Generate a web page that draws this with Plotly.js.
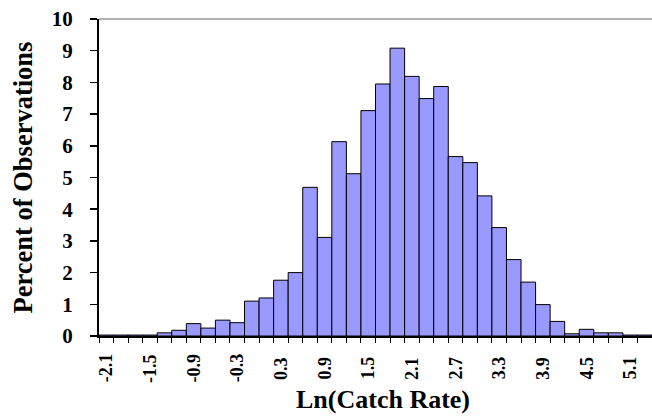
<!DOCTYPE html>
<html>
<head>
<meta charset="utf-8">
<script src="https://cdn.plot.ly/plotly-3.0.1.min.js"></script>
<style>html,body{margin:0;padding:0;background:#fff;}#chart{width:652px;height:417px;}</style>
</head>
<body>
<div id="chart"></div>
<script>
// Bin centres of Ln(Catch Rate), width 0.2
const binCenters = [-2.1,-1.9,-1.7,-1.5,-1.3,-1.1,-0.9,-0.7,-0.5,-0.3,-0.1,0.1,0.3,0.5,0.7,0.9,1.1,1.3,1.5,1.7,1.9,2.1,2.3,2.5,2.7,2.9,3.1,3.3,3.5,3.7,3.9,4.1,4.3,4.5,4.7,4.9,5.1,5.3];
// Percent of observations per bin
const percentObs = [0.03,0.03,0.03,0.03,0.10,0.18,0.39,0.25,0.50,0.42,1.10,1.20,1.76,2.00,4.69,3.11,6.13,5.12,7.11,7.95,9.08,8.19,7.49,7.87,5.66,5.47,4.42,3.42,2.41,1.70,0.99,0.46,0.07,0.21,0.10,0.10,0.03,0.03];
// Labelled ticks
const tickValues = [-2.1,-1.5,-0.9,-0.3,0.3,0.9,1.5,2.1,2.7,3.3,3.9,4.5,5.1];
const tickLabels = ["-2.1","-1.5","-0.9","-0.3","0.3","0.9","1.5","2.1","2.7","3.3","3.9","4.5","5.1"];
const xTitle = 'Ln(Catch Rate)';
const yTitle = 'Percent of Observations';
const binWidth = 0.2;
const binEdges = binCenters.map(c => +(c - binWidth/2).toFixed(2)).concat([+(binCenters[binCenters.length-1] + binWidth/2).toFixed(2)]);

const serif = '"Liberation Serif", "Times New Roman", Times, serif';
const xRange = [-2.2, 5.4];

const trace = {
  type: 'bar',
  x: binCenters,
  y: percentObs,
  width: binWidth,
  marker: {color: '#9999FF', line: {color: '#000000', width: 1}},
  hoverinfo: 'x+y'
};

// rotated tick labels placed on the x scale
const tickAnnotations = tickValues.map((v, i) => ({
  xref: 'x', x: v, yref: 'paper', y: 0,
  xanchor: 'center', yanchor: 'middle', yshift: -32,
  textangle: -90, showarrow: false, text: tickLabels[i],
  font: {family: serif, size: 18, weight: 'bold', color: '#000'}
}));
const titleAnnotation = {
  xref: 'paper', x: 0.514, yref: 'paper', y: 0,
  xanchor: 'center', yanchor: 'bottom', yshift: -80,
  showarrow: false, text: xTitle,
  font: {family: serif, size: 26, weight: 'bold', color: '#000'}
};

const layout = {
  width: 652, height: 417,
  margin: {l: 99, r: 0, t: 19, b: 81},
  paper_bgcolor: '#ffffff', plot_bgcolor: '#ffffff',
  font: {family: serif, color: '#000000', weight: 'bold'},
  showlegend: false,
  bargap: 0,
  xaxis: {
    range: xRange,
    tickmode: 'array', tickvals: binEdges,
    ticks: 'outside', ticklen: 5, tickwidth: 1, tickcolor: '#000',
    showticklabels: false,
    showline: true, linecolor: '#000', linewidth: 2,
    showgrid: false, zeroline: false
  },
  yaxis: {
    range: [0, 10],
    tickmode: 'linear', tick0: 0, dtick: 1,
    ticks: 'outside', ticklen: 7, tickwidth: 1.5, tickcolor: '#000',
    ticklabelstandoff: 13,
    tickfont: {family: serif, size: 21, weight: 'bold', color: '#000'},
    showline: true, linecolor: '#000', linewidth: 2,
    showgrid: false, zeroline: false,
    title: {text: yTitle, font: {family: serif, size: 26.5, weight: 'bold', color: '#000'}, standoff: 12}
  },
  annotations: tickAnnotations.concat([titleAnnotation]),
  shapes: [{type: 'line', xref: 'paper', yref: 'paper', x0: 0, x1: 1, y0: 1, y1: 1, line: {color: '#999999', width: 1.5}}]
};

Plotly.newPlot('chart', [trace], layout, {displayModeBar: false, staticPlot: true});
</script>
</body>
</html>
